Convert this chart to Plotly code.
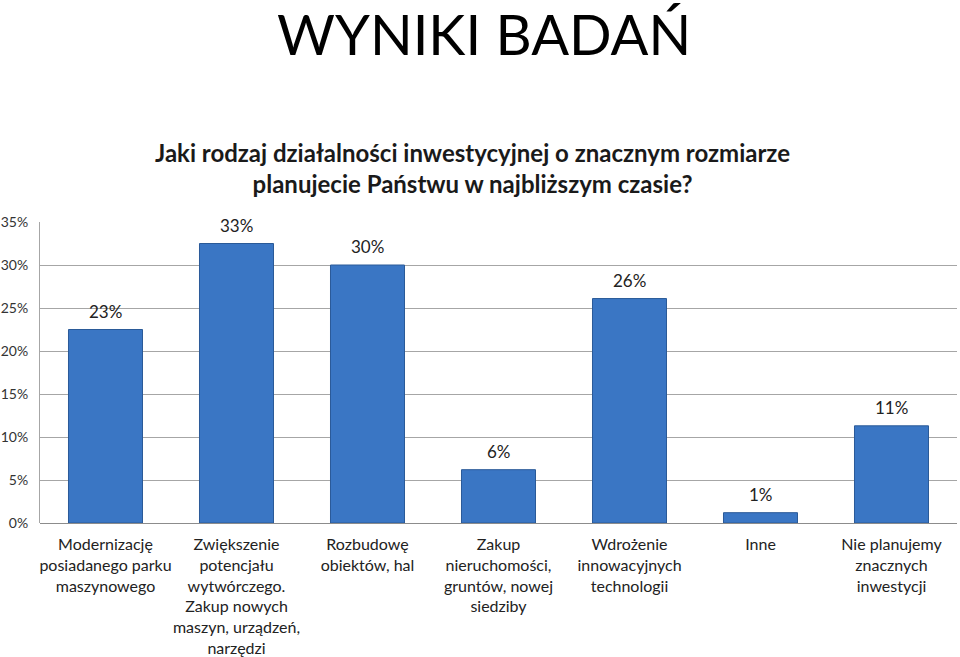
import plotly.graph_objects as go

# ── data ─────────────────────────────────────────────────────────────────
categories = [
    "Modernizację<br>posiadanego parku<br>maszynowego",
    "Zwiększenie<br>potencjału<br>wytwórczego.<br>Zakup nowych<br>maszyn, urządzeń,<br>narzędzi",
    "Rozbudowę<br>obiektów, hal",
    "Zakup<br>nieruchomości,<br>gruntów, nowej<br>siedziby",
    "Wdrożenie<br>innowacyjnych<br>technologii",
    "Inne",
    "Nie planujemy<br>znacznych<br>inwestycji",
]
values = [22.5, 32.5, 30.0, 6.2, 26.1, 1.2, 11.3]
value_labels = ["23%", "33%", "30%", "6%", "26%", "1%", "11%"]
tick_vals = [0, 5, 10, 15, 20, 25, 30, 35]
tick_text = ["0%", "5%", "10%", "15%", "20%", "25%", "30%", "35%"]

FONT = "Lato"
BAR = "#3a76c4"
BAR_EDGE = "#2a5a98"
GRID = "#a6a6a6"

W, H = 960, 657
L, R, T, B = 40, 3, 221.5, 133.7


def to_paper(px, py):
    return (px - L) / (W - L - R), 1 - (py - T) / (H - T - B)


fig = go.Figure(
    go.Bar(
        x=categories,
        y=values,
        marker=dict(color=BAR, line=dict(color=BAR_EDGE, width=1)),
        hoverinfo="skip",
    )
)

# value labels sit a little above each bar
annotations = [
    dict(
        x=c, y=v, text=t, showarrow=False,
        xref="x", yref="y", yanchor="bottom", yshift=6,
        font=dict(family=FONT, size=17, color="#222222"),
    )
    for c, v, t in zip(categories, values, value_labels)
]

# ── titles ────────────────────────────────────────────────────────────────
tx, ty = to_paper(484, 32)
annotations.append(dict(
    text="WYNIKI BADAŃ", x=tx, y=ty, xref="paper", yref="paper",
    xanchor="center", yanchor="middle", showarrow=False,
    font=dict(family=FONT, size=56, color="#000000"),
))
sx, sy = to_paper(472, 167)
annotations.append(dict(
    text="Jaki rodzaj działalności inwestycyjnej o znacznym rozmiarze<br>"
         "planujecie Państwu w najbliższym czasie?",
    x=sx, y=sy, xref="paper", yref="paper",
    xanchor="center", yanchor="middle", showarrow=False,
    font=dict(family=FONT, size=24, color="#1a1a1a", weight="bold"),
))

fig.update_layout(
    width=W, height=H,
    margin=dict(l=L, r=R, t=T, b=B, pad=0, autoexpand=False),
    paper_bgcolor="white",
    plot_bgcolor="white",
    bargap=0.435,
    showlegend=False,
    font=dict(family=FONT, color="#222222"),
    annotations=annotations,
    xaxis=dict(
        showgrid=False,
        showline=False,
        ticks="",
        tickangle=0,
        automargin=False,
        tickfont=dict(family=FONT, size=16, color="#222222"),
        ticklabelstandoff=10,
        fixedrange=True,
    ),
    yaxis=dict(
        range=[0, 35],
        tickvals=tick_vals,
        ticktext=tick_text,
        automargin=False,
        showgrid=True,
        gridcolor=GRID,
        gridwidth=1,
        zeroline=True,
        zerolinecolor="#8c8c8c",
        zerolinewidth=1,
        showline=True,
        linecolor=GRID,
        linewidth=1,
        ticks="",
        tickfont=dict(family=FONT, size=14, color="#333333"),
        ticklabelstandoff=8,
        fixedrange=True,
    ),
)

# drop the browser's default 8px body margin so the figure sits at the corner
fig.write_html(
    "out.html",
    config={"displayModeBar": False},
    post_script="document.body.style.margin = '0px';",
)
